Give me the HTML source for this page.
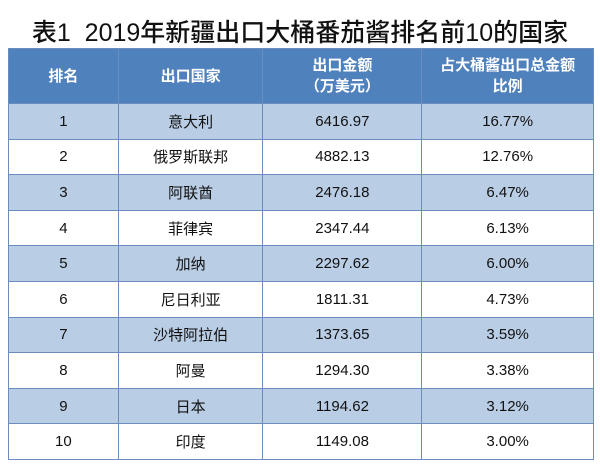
<!DOCTYPE html>
<html><head><meta charset="utf-8"><style>
body{margin:0;width:600px;height:475px;background:#fff;font-family:"Liberation Sans","Noto Sans CJK SC",sans-serif;overflow:hidden}
.t{position:absolute;left:0;top:13px;width:600px;text-align:center;font-size:25px;color:#111;font-weight:500}
table{position:absolute;left:8px;top:48px;border-collapse:collapse;width:586px}
td,th{border:1.5px solid #6b8cbc;text-align:center;font-size:15px;color:#111;padding:0}
th{background:#4f81bd;color:#fff;font-weight:bold;height:54px;line-height:21px;border-color:#6b8cbc}
tr.b td{background:#b9cde5}
td{height:34.6px}
</style></head><body>
<div class="t">表1&nbsp; 2019年新疆出口大桶番茄酱排名前10的国家</div>
<table>
<colgroup><col style="width:110px"><col style="width:145px"><col style="width:159px"><col style="width:172px"></colgroup>
<tr><th>排名</th><th>出口国家</th><th>出口金额<br>（万美元）</th><th>占大桶酱出口总金额<br>比例</th></tr>
<tr class="b"><td>1</td><td>意大利</td><td>6416.97</td><td>16.77%</td></tr>
<tr><td>2</td><td>俄罗斯联邦</td><td>4882.13</td><td>12.76%</td></tr>
<tr class="b"><td>3</td><td>阿联酋</td><td>2476.18</td><td>6.47%</td></tr>
<tr><td>4</td><td>菲律宾</td><td>2347.44</td><td>6.13%</td></tr>
<tr class="b"><td>5</td><td>加纳</td><td>2297.62</td><td>6.00%</td></tr>
<tr><td>6</td><td>尼日利亚</td><td>1811.31</td><td>4.73%</td></tr>
<tr class="b"><td>7</td><td>沙特阿拉伯</td><td>1373.65</td><td>3.59%</td></tr>
<tr><td>8</td><td>阿曼</td><td>1294.30</td><td>3.38%</td></tr>
<tr class="b"><td>9</td><td>日本</td><td>1194.62</td><td>3.12%</td></tr>
<tr><td>10</td><td>印度</td><td>1149.08</td><td>3.00%</td></tr>
</table>
</body></html>
